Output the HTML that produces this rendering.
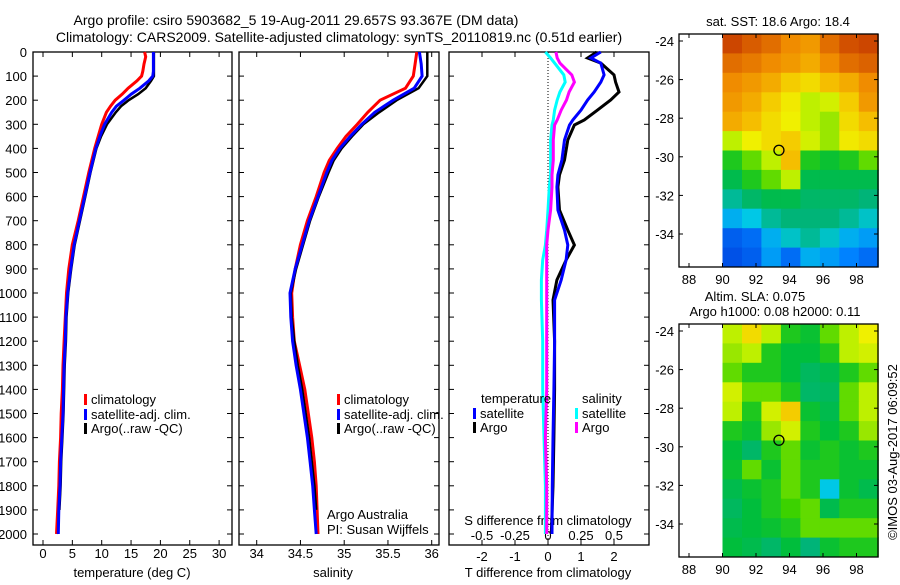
<!DOCTYPE html>
<html><head><meta charset="utf-8">
<style>
body{margin:0;background:#fff;width:900px;height:580px;overflow:hidden;font-family:"Liberation Sans",sans-serif}
svg text{font-family:"Liberation Sans",sans-serif;fill:#000}
</style></head>
<body>
<svg id="c" width="900" height="580" xmlns="http://www.w3.org/2000/svg"></svg>
<script>
// ---------- data ----------
const depthT = [0,20,50,80,100,120,150,175,200,225,250,300,350,400,500,600,700,800,900,1000,1100,1200,1300,1400,1500,1600,1700,1800,1900,2000];
const tempClim = [17.3,17.5,17.2,17.0,16.8,16.0,14.5,13.5,12.3,11.5,10.8,10.0,9.4,8.8,7.8,6.9,6.0,5.0,4.4,4.0,3.8,3.6,3.4,3.3,3.1,3.0,2.8,2.7,2.5,2.3];
const tempSat  = [18.8,18.8,18.8,18.8,18.7,18.0,16.5,15.0,13.8,12.5,11.7,10.5,9.7,9.0,8.0,7.1,6.2,5.3,4.7,4.2,3.9,3.8,3.6,3.5,3.4,3.2,3.0,2.9,2.7,2.6];
const tempArgo = [18.9,18.9,18.9,18.9,18.9,18.4,17.5,16.2,14.6,13.3,12.4,10.9,9.9,9.1,8.1,7.2,6.3,5.4,4.8,4.3,4.0,3.9,3.7,3.6,3.5,3.3,3.1,3.0,2.8,2.7];
const depthS = [0,50,100,150,200,250,300,350,400,450,500,600,700,800,900,1000,1100,1200,1300,1400,1500,1600,1700,1800,1900,2000];
const salClim = [35.83,35.81,35.79,35.70,35.41,35.27,35.15,35.02,34.92,34.83,34.77,34.68,34.58,34.50,34.44,34.40,34.41,34.43,34.49,34.55,34.59,34.63,34.66,34.68,34.69,34.70];
const salSat  = [35.86,35.88,35.89,35.80,35.56,35.35,35.20,35.07,34.95,34.86,34.80,34.70,34.60,34.52,34.44,34.38,34.39,34.41,34.45,34.50,34.54,34.58,34.61,34.64,34.66,34.68];
const salArgo = [35.95,35.95,35.95,35.85,35.60,35.40,35.22,35.09,34.97,34.88,34.82,34.71,34.61,34.53,34.45,34.39,34.40,34.43,34.47,34.52,34.56,34.60,34.63,34.66,34.68,34.70];
const depthD = [0,25,46,95,125,166,199,241,282,303,365,448,510,560,656,739,801,863,946,1029,1200,1400,1600,1800,2000];
const dTArgo = [1.48,1.2,1.6,2.0,2.05,2.15,1.9,1.5,1.1,0.8,0.6,0.5,0.35,0.3,0.35,0.6,0.8,0.55,0.27,0.15,0.2,0.2,0.18,0.15,0.1];
const dTSat  = [1.6,1.3,1.6,1.7,1.6,1.4,1.2,1.0,0.75,0.65,0.5,0.42,0.3,0.27,0.3,0.5,0.6,0.55,0.4,0.2,0.2,0.18,0.15,0.13,0.12];
const dSArgo = [0.06,0.07,0.09,0.18,0.2,0.16,0.14,0.1,0.07,0.05,0.04,0.04,0.03,0.03,0.02,0.0,-0.01,-0.01,-0.01,-0.01,-0.01,-0.01,-0.02,-0.01,-0.01];
const dSSat  = [-0.02,0.02,0.05,0.12,0.13,0.09,0.07,0.05,0.04,0.03,0.02,0.02,0.02,0.01,0.0,-0.01,-0.02,-0.04,-0.05,-0.05,-0.04,-0.04,-0.03,-0.02,-0.02];
const depthTicks = [0,100,200,300,400,500,600,700,800,900,1000,1100,1200,1300,1400,1500,1600,1700,1800,1900,2000];
const tempTicks = [0,5,10,15,20,25,30];
const salTicks = [34,34.5,35,35.5,36];
const salTickLabels = ["34","34.5","35","35.5","36"];
const dTTicks = [-2,-1,0,1,2];
const dSTicks = [-0.5,-0.25,0,0.25,0.5];
const dSTickLabels = ["-0.5","-0.25","0","0.25","0.5"];
const lonTicks = [88,90,92,94,96,98];
const latTicks = [-24,-26,-28,-30,-32,-34];
const sstGrid = [
[0.92,0.88,0.85,0.8,0.78,0.85,0.9,0.92],
[0.85,0.83,0.8,0.78,0.75,0.8,0.85,0.87],
[0.8,0.78,0.75,0.7,0.68,0.72,0.75,0.8],
[0.78,0.75,0.7,0.66,0.6,0.62,0.7,0.78],
[0.75,0.72,0.68,0.65,0.6,0.58,0.68,0.72],
[0.6,0.65,0.68,0.7,0.62,0.58,0.66,0.68],
[0.5,0.55,0.6,0.72,0.5,0.48,0.5,0.55],
[0.45,0.5,0.55,0.6,0.45,0.45,0.45,0.45],
[0.38,0.42,0.45,0.45,0.42,0.42,0.42,0.4],
[0.3,0.33,0.38,0.4,0.4,0.4,0.38,0.35],
[0.2,0.22,0.3,0.35,0.38,0.35,0.3,0.28],
[0.18,0.2,0.28,0.22,0.3,0.28,0.25,0.22]];
const slaGrid = [
[0.6,0.68,0.6,0.5,0.48,0.55,0.6,0.65],
[0.58,0.6,0.5,0.47,0.47,0.5,0.6,0.62],
[0.55,0.5,0.5,0.47,0.43,0.45,0.5,0.55],
[0.62,0.55,0.55,0.5,0.42,0.43,0.55,0.6],
[0.6,0.5,0.62,0.7,0.48,0.45,0.55,0.6],
[0.5,0.48,0.58,0.62,0.5,0.47,0.5,0.58],
[0.47,0.42,0.5,0.55,0.48,0.5,0.48,0.5],
[0.48,0.55,0.48,0.55,0.5,0.5,0.48,0.48],
[0.45,0.48,0.5,0.55,0.5,0.33,0.48,0.45],
[0.43,0.47,0.5,0.53,0.55,0.45,0.5,0.5],
[0.45,0.47,0.48,0.5,0.55,0.55,0.55,0.55],
[0.47,0.45,0.42,0.47,0.4,0.48,0.5,0.5]];
const argoLon = 93.37, argoLat = -29.66;

// ---------- helpers ----------
const svg = document.getElementById('c');
const NS = 'http://www.w3.org/2000/svg';
function mk(tag, attrs, parent){const e=document.createElementNS(NS,tag);for(const k in attrs)e.setAttribute(k,attrs[k]);(parent||svg).appendChild(e);return e;}
function txt(x,y,s,size,anchor,name){const t=mk('text',{x:x,y:y,'font-size':size||13,'text-anchor':anchor||'middle'});t.textContent=s;


return t;}
const Y0=52, YB=545;
const yD = d => Y0 + d*0.241;
const xT = v => 43 + v*5.87;
const xS = v => 256.7 + (v-34)*87.5;
const xDT = v => 548 + v*33;
const xDS = v => 548 + v*132;

function panel(x0,x1,name){
  const r=mk('rect',{x:x0,y:Y0,width:x1-x0,height:YB-Y0,fill:'none',stroke:'#000','stroke-width':1.3});
  
  
  depthTicks.forEach(d=>{const y=yD(d);
    mk('line',{x1:x0,x2:x0+5,y1:y,y2:y,stroke:'#000'});
    mk('line',{x1:x1,x2:x1-5,y1:y,y2:y,stroke:'#000'});});
}
function xticks(ticks,fx,labels,y,x0,x1,top){
  ticks.forEach((v,i)=>{const x=fx(v);
    mk('line',{x1:x,x2:x,y1:YB,y2:YB-5,stroke:'#000'});
    if(top) mk('line',{x1:x,x2:x,y1:Y0,y2:Y0+5,stroke:'#000'});
    if(labels) txt(x,y,labels[i],13,'middle','x-tick-label');});
}
function line(xs,ds,fx,color,name,w){
  const pts=xs.map((v,i)=>fx(v).toFixed(1)+','+yD(ds[i]).toFixed(1)).join(' ');
  const p=mk('polyline',{points:pts,fill:'none',stroke:color,'stroke-width':w||3,'stroke-linejoin':'miter'});
  
  
}
function legendItem(x,y,color,label,name){
  const r=mk('rect',{x:x,y:y-10,width:3,height:11,fill:color});
  
  
  txt(x+7,y,label,13,'start',name);
}

// titles
txt(296,25,'Argo profile: csiro 5903682_5 19-Aug-2011 29.657S 93.367E (DM data)',14,'middle','chart-title');
txt(339,42,'Climatology: CARS2009. Satellite-adjusted climatology: synTS_20110819.nc (0.51d earlier)',14,'middle','chart-subtitle');

// panel 1
panel(33,232,'temperature-panel');
depthTicks.forEach(d=>txt(27,yD(d)+5,String(d),13,'end','y-tick-label'));
xticks(tempTicks,xT,tempTicks.map(String),558,33,232,true);
txt(132,577,'temperature (deg C)',13,'middle','x-axis-title-temperature');
line(tempClim,depthT,xT,'#ff0000','temp-climatology-line');
line(tempArgo.slice(0,29),depthT.slice(0,29),xT,'#000000','temp-argo-line',2.5);
line(tempSat,depthT,xT,'#0000ff','temp-satellite-line');
legendItem(84,404,'#ff0000','climatology','legend-climatology');
legendItem(84,419,'#0000ff','satellite-adj. clim.','legend-satellite');
legendItem(84,433,'#000000','Argo(..raw -QC)','legend-argo');

// panel 2
panel(239,439,'salinity-panel');
xticks(salTicks,xS,salTickLabels,558,239,439,true);
txt(333,577,'salinity',13,'middle','x-axis-title-salinity');
line(salClim,depthS,xS,'#ff0000','sal-climatology-line');
line(salArgo.slice(0,25),depthS.slice(0,25),xS,'#000000','sal-argo-line',2.5);
line(salSat,depthS,xS,'#0000ff','sal-satellite-line');
legendItem(337,404,'#ff0000','climatology','legend-climatology-2');
legendItem(337,419,'#0000ff','satellite-adj. clim.','legend-satellite-2');
legendItem(337,433,'#000000','Argo(..raw -QC)','legend-argo-2');
txt(327,519,'Argo Australia',13,'start','institution-label');
txt(327,534,'PI: Susan Wijffels',13,'start','pi-label');

// panel 3
panel(449,649,'difference-panel');
mk('line',{x1:548,x2:548,y1:Y0,y2:YB,stroke:'#000','stroke-dasharray':'1,2'});
xticks(dTTicks,xDT,dTTicks.map(String),561,449,649,true);
dSTicks.forEach((v,i)=>txt(xDS(v),540,dSTickLabels[i],13,'middle','s-diff-tick-label'));
txt(548,525,'S difference from climatology',13,'middle','s-diff-axis-title');
txt(548,577,'T difference from climatology',13,'middle','t-diff-axis-title');
line(dSSat,depthD,xDS,'#00ffff','s-diff-satellite-line');
line(dSArgo,depthD,xDS,'#ff00ff','s-diff-argo-line');
line(dTArgo,depthD,xDT,'#000000','t-diff-argo-line');
line(dTSat,depthD,xDT,'#0000ff','t-diff-satellite-line');
txt(481,403,'temperature',13,'start','legend-title-temperature');
txt(582,403,'salinity',13,'start','legend-title-salinity');
legendItem(473,418,'#0000ff','satellite','legend-t-satellite');
legendItem(473,432,'#000000','Argo','legend-t-argo');
legendItem(575,418,'#00ffff','satellite','legend-s-satellite');
legendItem(575,432,'#ff00ff','Argo','legend-s-argo');

// ---------- maps ----------
const cmapStops=[[0,[0,0,160]],[0.15,[0,60,220]],[0.25,[0,130,255]],[0.33,[0,200,230]],[0.4,[0,180,120]],[0.47,[0,190,60]],[0.53,[60,210,0]],[0.6,[190,240,0]],[0.65,[240,240,0]],[0.72,[245,190,0]],[0.8,[240,140,0]],[0.9,[210,80,0]],[1,[180,30,0]]];
function cmap(v){
  for(let i=1;i<cmapStops.length;i++){
    const [a,ca]=cmapStops[i-1],[b,cb]=cmapStops[i];
    if(v<=b){const t=(v-a)/(b-a);return 'rgb('+ca.map((c,k)=>Math.round(c+(cb[k]-c)*t)).join(',')+')';}
  }
  return 'rgb(180,30,0)';
}
function map(top,grid,name){
  const L=679,R=878,B=top+233;
  const xL=lon=>689+(lon-88)*16.75;
  const yL=lat=>top+7+(-24-lat)*19.3;
  const g=mk('g',{});
  
  
  const latTop=-24+7/19.3, rows=grid.length, cols=grid[0].length;
  const lon0=90, lon1=99.3, dLat=(B-top)/19.3/rows;
  grid.forEach((row,i)=>row.forEach((v,j)=>{
    const x=xL(lon0+(lon1-lon0)*j/cols), x2=xL(lon0+(lon1-lon0)*(j+1)/cols);
    const y=yL(latTop-dLat*i), y2=yL(latTop-dLat*(i+1));
    const r=mk('rect',{x:x.toFixed(1),y:y.toFixed(1),width:(x2-x+0.5).toFixed(1),height:(y2-y+0.5).toFixed(1),fill:cmap(v)},g);
    
    
  }));
  mk('rect',{x:L,y:top,width:R-L,height:B-top,fill:'none',stroke:'#000','stroke-width':1.3},g);
  lonTicks.forEach(l=>{const x=xL(l);mk('line',{x1:x,x2:x,y1:B,y2:B-4,stroke:'#000'},g);mk('line',{x1:x,x2:x,y1:top,y2:top+4,stroke:'#000'},g);txt(x,B+17,String(l),13,'middle','lon-tick-label');});
  latTicks.forEach(l=>{const y=yL(l);mk('line',{x1:L,x2:L+4,y1:y,y2:y,stroke:'#000'},g);mk('line',{x1:R,x2:R-4,y1:y,y2:y,stroke:'#000'},g);txt(L-5,y+5,String(l),13,'end','lat-tick-label');});
  const c=mk('circle',{cx:xL(argoLon),cy:yL(argoLat),r:5,fill:'none',stroke:'#000','stroke-width':1.3},g);
  
  
}
txt(778,26,'sat. SST: 18.6 Argo: 18.4',13,'middle','sst-map-title');
map(34,sstGrid,'sst-map');
txt(755,301,'Altim. SLA: 0.075',13,'middle','sla-map-title');
txt(775,316,'Argo h1000: 0.08 h2000: 0.11',13,'middle','sla-map-subtitle');
map(324,slaGrid,'sla-map');
const cp=txt(0,0,'©IMOS 03-Aug-2017 06:09:52',13,'middle','copyright-label');
cp.setAttribute('transform','translate(897,452) rotate(-90)');
</script>
</body></html>
